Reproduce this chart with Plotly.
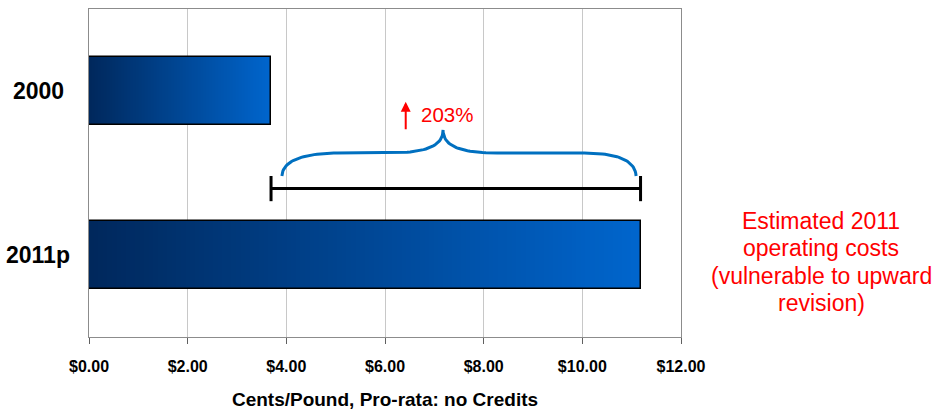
import plotly.graph_objects as go
import numpy as np

# Data
categories = ["2000", "2011p"]
costs = [3.69, 11.18]          # cents per pound
x_ticks = [0, 2, 4, 6, 8, 10, 12]
x_tick_labels = ["$%.2f" % v for v in x_ticks]
note_lines = ["Estimated 2011", "operating costs", "(vulnerable to upward", "revision)"]
x_title = "Cents/Pound, Pro-rata: no Credits"

W, H = 936, 410
ML, MR, MT, MB = 89, 255, 9, 73
FONT = "Liberation Sans, Arial, sans-serif"

fig = go.Figure()

# Horizontal gradient fill: overlapping bars from 0, shortest drawn last with darkest colour
left_rgb = np.array([0, 40, 92])
right_rgb = np.array([0, 102, 206])
N = 120
for idx, val in enumerate(costs):
    xs, cols = [], []
    for i in range(N):
        frac = (N - i) / N
        c = left_rgb + (right_rgb - left_rgb) * ((N - i - 0.5) / N)
        xs.append(val * frac)
        cols.append("rgb(%d,%d,%d)" % tuple(c.astype(int)))
    fig.add_trace(go.Bar(
        x=xs, y=[idx] * N, base=[0] * N, orientation="h",
        marker=dict(color=cols, line=dict(width=0)),
        width=0.415, showlegend=False, hoverinfo="skip",
    ))

# Bar outlines
fig.add_trace(go.Bar(
    x=costs, y=list(range(len(costs))), orientation="h", width=0.415,
    marker=dict(color="rgba(0,0,0,0)", line=dict(color="black", width=1.5)),
    showlegend=False, hoverinfo="skip",
))

# Range bar between the two values
y_range = 0.595
fig.add_trace(go.Scatter(
    x=costs, y=[y_range, y_range], mode="lines+markers",
    line=dict(color="black", width=3),
    marker=dict(symbol="line-ns", size=18, line=dict(color="black", width=3)),
    showlegend=False, hoverinfo="skip",
))

# Curly brace above the range bar
def bezier(p0, p1, p2, p3, n=30):
    t = np.linspace(0, 1, n)[:, None]
    p0, p1, p2, p3 = map(np.array, (p0, p1, p2, p3))
    return ((1 - t) ** 3) * p0 + 3 * ((1 - t) ** 2) * t * p1 + 3 * (1 - t) * t ** 2 * p2 + t ** 3 * p3

x0 = costs[0] + 0.22
x1 = costs[1] - 0.09
xm = x0 + 0.455 * (x1 - x0)
y_end, y_flat, y_tip = 0.518, 0.378, 0.238
seg = [
    bezier((x0, y_end), (x0 + 0.02, 0.42), (x0 + 0.45, y_flat), (x0 + 1.2, y_flat)),
    bezier((xm - 1.1, y_flat), (xm - 0.3, y_flat), (xm, 0.33), (xm, y_tip)),
    bezier((xm, y_tip), (xm, 0.33), (xm + 0.3, y_flat), (xm + 1.1, y_flat)),
    bezier((x1 - 1.05, y_flat), (x1 - 0.4, y_flat), (x1 - 0.02, 0.42), (x1, y_end)),
]
brace = np.vstack(seg)
fig.add_trace(go.Scatter(
    x=brace[:, 0], y=brace[:, 1], mode="lines",
    line=dict(color="#0070C0", width=3), showlegend=False, hoverinfo="skip",
))

pct = round((costs[1] / costs[0] - 1) * 100)

annotations = []
# Category labels
for i, cat in enumerate(categories):
    annotations.append(dict(
        text="<b>%s</b>" % cat, x=(38 - ML) / (W - ML - MR), xref="paper",
        y=i, yref="y", showarrow=False, xanchor="center", yanchor="middle",
        font=dict(family=FONT, size=23, color="black"),
    ))
# Increase label
annotations.append(dict(
    text="%d%%" % pct, x=xm + 0.08, y=0.146, xref="x", yref="y", showarrow=False,
    xanchor="center", yanchor="middle", font=dict(family=FONT, size=20.5, color="red"),
))
annotations.append(dict(
    text="", x=6.42, y=0.065, xref="x", yref="y", showarrow=True,
    ax=0, ay=29, arrowhead=2, arrowsize=1, arrowwidth=2, arrowcolor="red",
))
# Side note
for j, line in enumerate(note_lines):
    ypix = 221 + 27.3 * j
    annotations.append(dict(
        text=line, x=(821 - ML) / (W - ML - MR), xref="paper",
        y=1 - (ypix - MT) / (H - MT - MB), yref="paper", showarrow=False,
        xanchor="center", yanchor="middle",
        font=dict(family=FONT, size=23, color="red"),
    ))

fig.update_layout(
    width=W, height=H, margin=dict(l=ML, r=MR, t=MT, b=MB, autoexpand=False),
    paper_bgcolor="white", plot_bgcolor="white",
    barmode="overlay", bargap=0, showlegend=False,
    font=dict(family=FONT, color="black"),
    annotations=annotations,
    xaxis=dict(
        range=[0, 12], tickmode="array", tickvals=x_ticks, ticktext=x_tick_labels,
        showgrid=True, gridcolor="#c8c8c8", gridwidth=1,
        showline=True, linecolor="#8c8c8c", linewidth=1, mirror=True,
        ticks="outside", ticklen=6, tickcolor="#606060",
        tickfont=dict(family=FONT, size=16, color="black", weight="bold"),
        ticklabelstandoff=9, automargin=False,
        zeroline=False,
        title=dict(text="<b>%s</b>" % x_title, font=dict(family=FONT, size=19), standoff=18),
    ),
    yaxis=dict(
        range=[1.5, -0.5], showticklabels=False, showgrid=False, zeroline=False,
        showline=True, linecolor="#8c8c8c", linewidth=1, mirror=True, ticks="",
        automargin=False,
    ),
)

fig.write_html("out.html")
